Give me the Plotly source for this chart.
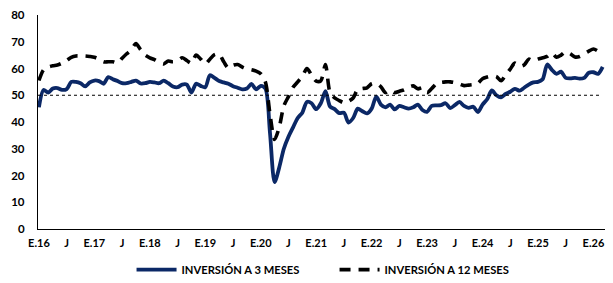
import pandas as pd
import plotly.graph_objects as go

# Monthly observations, Jan 2016 - Mar 2026
MONTHS = [d.strftime("%Y-%m") for d in pd.date_range("2016-01-01", "2026-03-01", freq="MS")]

INV_3M = [
    45.5, 52.0, 51.0, 52.5, 52.7, 52.0, 52.3, 55.0, 55.0, 54.5, 53.3, 54.8,   # 2016
    55.5, 55.3, 54.3, 56.8, 56.0, 55.3, 54.5, 54.5, 55.0, 55.5, 54.4, 54.5,   # 2017
    55.0, 54.8, 54.5, 55.5, 54.5, 53.3, 53.0, 54.0, 54.0, 51.0, 54.3, 53.5,   # 2018
    53.0, 57.5, 56.5, 55.3, 54.8, 54.3, 53.4, 52.8, 52.2, 52.5, 54.2, 52.2,   # 2019
    53.5, 52.5, 36.0, 17.5, 23.0, 30.0, 34.5, 38.0, 41.5, 43.5, 47.5, 47.0,   # 2020
    44.8, 47.0, 51.5, 45.8, 44.8, 43.3, 43.5, 39.8, 41.5, 45.0, 44.0, 43.2,   # 2021
    45.0, 49.5, 46.5, 45.5, 46.5, 44.7, 46.0, 45.5, 45.0, 45.5, 46.5, 44.5,   # 2022
    43.8, 46.0, 46.2, 46.3, 47.0, 45.2, 46.3, 47.5, 46.0, 45.3, 45.7, 43.7,   # 2023
    46.5, 48.5, 51.8, 50.0, 49.2, 50.5, 51.3, 52.4, 51.7, 52.8, 54.0, 54.8,   # 2024
    55.0, 56.0, 61.5, 59.5, 58.0, 58.8, 56.5, 56.3, 56.5, 56.2, 56.5, 58.4,   # 2025
    58.6, 58.0, 60.6,                                                         # 2026
]

INV_12M = [
    55.5, 59.5, 60.5, 61.0, 61.3, 62.0, 63.0, 64.2, 64.7, 64.7, 64.7, 64.5,   # 2016
    64.2, 63.5, 62.5, 62.5, 62.5, 62.0, 63.8, 65.5, 67.0, 69.3, 67.0, 65.0,   # 2017
    64.0, 63.3, 62.3, 61.7, 62.8, 62.5, 63.0, 64.0, 63.0, 62.0, 65.0, 63.5,   # 2018
    61.7, 63.5, 65.2, 65.4, 62.5, 60.2, 61.2, 61.5, 60.5, 59.8, 59.5, 59.0,   # 2019
    58.0, 55.0, 43.0, 33.5, 38.0, 46.0, 49.5, 53.0, 55.0, 57.0, 60.0, 57.5,   # 2020
    55.3, 55.4, 61.5, 51.0, 49.0, 48.0, 47.2, 47.8, 49.0, 52.2, 52.5, 52.8,   # 2021
    54.3, 54.5, 53.2, 51.0, 52.0, 51.0, 51.5, 52.0, 53.0, 53.5, 52.4, 52.8,   # 2022
    51.0, 52.5, 54.3, 54.8, 55.0, 55.0, 54.7, 54.2, 53.6, 53.8, 54.0, 54.5,   # 2023
    56.2, 56.8, 57.2, 57.0, 55.4, 57.5, 59.8, 62.0, 60.8, 61.3, 63.5, 62.8,   # 2024
    63.5, 64.0, 64.5, 65.8, 64.2, 65.0, 66.3, 65.5, 64.3, 64.5, 65.5, 66.5,   # 2025
    67.3, 66.5, 65.4,                                                         # 2026
]

SERIES_NAMES = ["INVERSIÓN A 3 MESES", "INVERSIÓN A 12 MESES"]
THRESHOLD = 50

TICK_MONTHS = [f"{y}-{m}" for y in range(2016, 2027) for m in ("01", "07")][:-1]
TICK_LABELS = [
    "E.16", "J", "E.17", "J", "E.18", "J", "E.19", "J", "E.20", "J", "E.21",
    "J", "E.22", "J", "E.23", "J", "E.24", "J", "E.25", "J", "E.26",
]
Y_TICKS = [0, 10, 20, 30, 40, 50, 60, 70, 80]

FONT = "Lato, Calibri, 'Open Sans', sans-serif"

fig = go.Figure()
fig.add_trace(go.Scatter(
    x=MONTHS, y=INV_3M, name=SERIES_NAMES[0], mode="lines",
    line=dict(color="#0b2866", width=3.8, shape="spline", smoothing=0.8),
))
fig.add_trace(go.Scatter(
    x=MONTHS, y=INV_12M, name=SERIES_NAMES[1], mode="lines",
    line=dict(color="#000000", width=3.6, dash="11px,8px", shape="spline", smoothing=0.8),
))
fig.add_hline(y=THRESHOLD, line=dict(color="#000000", width=1, dash="dot"), x0=0, x1=0.99)

# the page body adds an 8px margin on every side, so the figure is smaller than the window
fig.update_layout(
    width=597, height=267,
    margin=dict(l=30, r=0, t=7, b=46, autoexpand=False),
    paper_bgcolor="white", plot_bgcolor="white",
    font=dict(family=FONT, size=11, color="#000000"),
    showlegend=True,
    legend=dict(
        orientation="h", x=0.523, xanchor="center",
        yref="container", y=0.02, yanchor="middle",
        font=dict(family=FONT, size=11.2, weight="bold", color="#000000"),
        itemwidth=40, entrywidth=148,
    ),
)
fig.update_xaxes(
    type="category", range=[-0.2, 122.5], automargin=False,
    tickmode="array", tickvals=TICK_MONTHS, ticktext=TICK_LABELS,
    tickfont=dict(family=FONT, size=11, weight="bold"),
    showline=True, linecolor="#000000", linewidth=1.3,
    showgrid=False, ticks="", ticklabelstandoff=4, zeroline=False,
    ticklabeloverflow="allow",
)
fig.update_yaxes(
    range=[0, 80], tickvals=Y_TICKS, automargin=False,
    tickfont=dict(family=FONT, size=11.5, weight="bold"),
    showline=True, linecolor="#000000", linewidth=1.3,
    showgrid=False, ticks="", ticklabelstandoff=10, zeroline=False,
    ticklabeloverflow="allow",
)

fig.write_html("out.html")
